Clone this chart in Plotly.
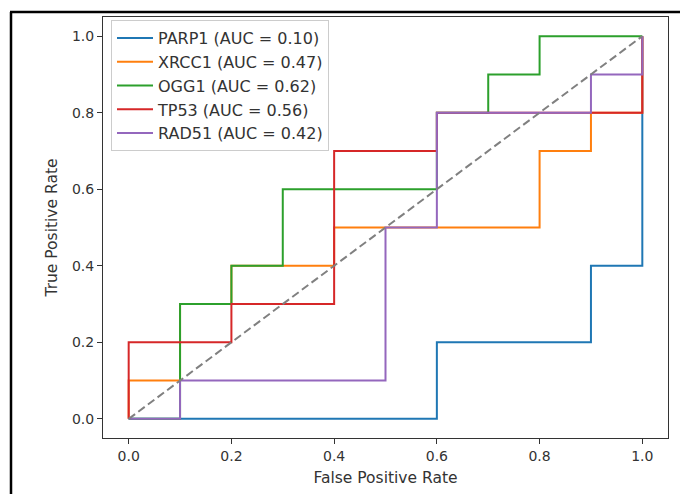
import plotly.graph_objects as go

# ---- data ----
genes = ["PARP1", "XRCC1", "OGG1", "TP53", "RAD51"]
auc_values = [0.10, 0.47, 0.62, 0.56, 0.42]

fpr_parp1 = [0.0, 0.6, 0.6, 0.9, 0.9, 1.0, 1.0]
tpr_parp1 = [0.0, 0.0, 0.2, 0.2, 0.4, 0.4, 1.0]

fpr_xrcc1 = [0.0, 0.0, 0.1, 0.1, 0.2, 0.2, 0.4, 0.4, 0.8, 0.8, 0.9, 0.9, 1.0, 1.0]
tpr_xrcc1 = [0.0, 0.1, 0.1, 0.3, 0.3, 0.4, 0.4, 0.5, 0.5, 0.7, 0.7, 0.8, 0.8, 1.0]

fpr_ogg1 = [0.0, 0.1, 0.1, 0.2, 0.2, 0.3, 0.3, 0.6, 0.6, 0.7, 0.7, 0.8, 0.8, 1.0]
tpr_ogg1 = [0.0, 0.0, 0.3, 0.3, 0.4, 0.4, 0.6, 0.6, 0.8, 0.8, 0.9, 0.9, 1.0, 1.0]

fpr_tp53 = [0.0, 0.0, 0.2, 0.2, 0.4, 0.4, 0.6, 0.6, 1.0, 1.0]
tpr_tp53 = [0.0, 0.2, 0.2, 0.3, 0.3, 0.7, 0.7, 0.8, 0.8, 1.0]

fpr_rad51 = [0.0, 0.1, 0.1, 0.5, 0.5, 0.6, 0.6, 0.9, 0.9, 1.0, 1.0]
tpr_rad51 = [0.0, 0.0, 0.1, 0.1, 0.5, 0.5, 0.8, 0.8, 0.9, 0.9, 1.0]

diag_x = [0.0, 1.0]
diag_y = [0.0, 1.0]

x_ticks = [0.0, 0.2, 0.4, 0.6, 0.8, 1.0]
y_ticks = [0.0, 0.2, 0.4, 0.6, 0.8, 1.0]
tick_text = ["0.0", "0.2", "0.4", "0.6", "0.8", "1.0"]

colors = ["#1f77b4", "#ff7f0e", "#2ca02c", "#d62728", "#9467bd"]

curves = [
    (fpr_parp1, tpr_parp1),
    (fpr_xrcc1, tpr_xrcc1),
    (fpr_ogg1, tpr_ogg1),
    (fpr_tp53, tpr_tp53),
    (fpr_rad51, tpr_rad51),
]

W, H = 680, 494
ML, MR, MT, MB = 103, 12, 17, 56
PW, PH = W - ML - MR, H - MT - MB

FONT = "DejaVu Sans"

fig = go.Figure()
for gene, auc, (fx, ty), c in zip(genes, auc_values, curves, colors):
    fig.add_trace(go.Scatter(
        x=fx, y=ty, mode="lines",
        name=f"{gene} (AUC = {auc:.2f})",
        line=dict(color=c, width=2),
    ))

fig.add_trace(go.Scatter(
    x=diag_x, y=diag_y, mode="lines", showlegend=False,
    line=dict(color="gray", width=2, dash="8px,4px"),
))

def px_x(p):
    return (p - ML) / PW

def px_y(p):
    return (H - MB - p) / PH

# outer black frame (top and left edges)
fig.add_shape(type="line", xref="paper", yref="paper",
              x0=px_x(10), x1=px_x(682), y0=px_y(12), y1=px_y(12),
              line=dict(color="black", width=2.5))
fig.add_shape(type="line", xref="paper", yref="paper",
              x0=px_x(11), x1=px_x(11), y0=px_y(12), y1=px_y(496),
              line=dict(color="black", width=2.5))

axis_common = dict(
    showgrid=False, zeroline=False,
    showline=True, linecolor="#333", linewidth=1, mirror=True,
    ticks="outside", ticklen=5, tickcolor="#333", tickwidth=1,
    tickfont=dict(family=FONT, size=14, color="#333"),
)

fig.update_xaxes(range=[-0.05, 1.05], tickvals=x_ticks, ticktext=tick_text,
                 title=dict(text="False Positive Rate", standoff=9,
                            font=dict(family=FONT, size=15.5, color="#333")),
                 **axis_common)
fig.update_yaxes(range=[-0.05, 1.05], tickvals=y_ticks, ticktext=tick_text,
                 title=dict(text="True Positive Rate", standoff=10,
                            font=dict(family=FONT, size=15.5, color="#333")),
                 **axis_common)

fig.update_layout(
    width=W, height=H,
    margin=dict(l=ML, r=MR, t=MT, b=MB, autoexpand=False),
    paper_bgcolor="white", plot_bgcolor="white",
    font=dict(family=FONT, size=14, color="#333"),
    legend=dict(
        x=px_x(111), y=px_y(20), xanchor="left", yanchor="top",
        bgcolor="rgba(255,255,255,0.8)", bordercolor="#ccc", borderwidth=1,
        font=dict(family=FONT, size=16, color="#333"),
        itemwidth=36,
    ),
    showlegend=True,
)

fig.write_html("out.html",
               config={"displayModeBar": False},
               post_script="document.body.style.margin='0';document.body.style.padding='0';")
